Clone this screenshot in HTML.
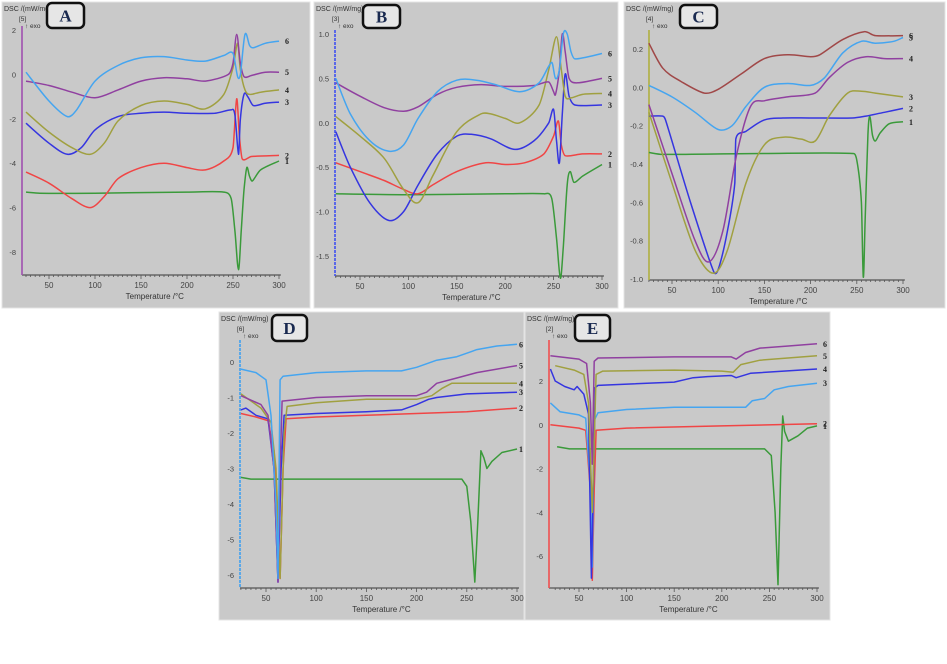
<!DOCTYPE html>
<html><head><meta charset="utf-8"><style>
html,body{margin:0;padding:0;background:#fff;}
svg{display:block;font-family:"Liberation Sans",sans-serif;}
</style></head><body>
<svg id="fig" width="947" height="664" viewBox="0 0 947 664"></svg>
<script>
// ---------- data (temperature °C / DSC mW/mg) ----------
const xTicks=[50,100,150,200,250,300];
const seriesLabels=["1","2","3","4","5","6"];
// Panel A
const A1T=[25,40,100,200,240,248,252,256,259,262,265,268,271,280,300];
const A1V=[-5.3,-5.35,-5.35,-5.3,-5.3,-5.6,-7,-8.8,-7,-5.2,-4.2,-4.6,-4.8,-4.3,-3.9];
const A2T=[25,50,75,95,110,125,150,175,200,220,240,250,254,257,260,270,300];
const A2V=[-4.4,-4.9,-5.6,-6.0,-5.5,-4.7,-4.2,-4.0,-4.2,-4.3,-3.9,-3.3,-1.1,-2.8,-3.8,-3.7,-3.65];
const A3T=[25,50,70,85,100,125,150,175,200,230,248,252,256,258,262,266,272,285,300];
const A3V=[-2.2,-3.1,-3.6,-3.3,-2.5,-1.9,-1.75,-1.7,-1.75,-1.75,-1.6,-1.8,-3.6,-2.0,-0.9,-1.0,-1.4,-1.3,-1.25];
const A4T=[25,50,75,95,110,125,150,175,200,220,240,250,255,258,263,268,280,300];
const A4V=[-1.7,-2.6,-3.3,-3.6,-3.1,-2.1,-1.4,-1.2,-1.35,-1.55,-0.9,0.3,1.4,0.2,-0.7,-0.9,-0.8,-0.7];
const A5T=[25,50,75,100,125,150,175,200,220,245,250,254,258,262,270,285,300];
const A5V=[-0.3,-0.5,-0.8,-1.05,-0.7,-0.3,-0.15,-0.2,-0.3,0.0,0.5,1.8,0.5,-0.1,-0.05,0.1,0.1];
const A6T=[25,50,70,80,100,125,150,175,200,220,240,250,255,258,263,268,272,285,300];
const A6V=[0.1,-1.2,-1.9,-1.6,-0.3,0.4,0.75,0.8,0.65,0.6,0.85,0.95,-0.1,0.0,1.8,1.3,1.2,1.4,1.5];
// Panel B
const B1T=[25,100,200,240,248,253,257,260,264,267,271,280,300];
const B1V=[-0.8,-0.81,-0.8,-0.8,-0.85,-1.3,-1.75,-1.4,-0.7,-0.55,-0.67,-0.6,-0.47];
const B2T=[25,50,75,95,110,125,150,180,200,220,240,250,255,258,262,280,300];
const B2V=[-0.45,-0.55,-0.65,-0.75,-0.8,-0.7,-0.55,-0.45,-0.47,-0.45,-0.35,-0.15,0.02,-0.25,-0.37,-0.35,-0.35];
const B3T=[25,40,60,80,95,110,130,150,165,185,210,230,245,250,253,256,259,262,266,272,300];
const B3V=[-0.1,-0.5,-0.9,-1.1,-1.0,-0.7,-0.35,-0.15,-0.13,-0.18,-0.3,-0.2,0.0,0.15,-0.2,-0.45,0.1,0.55,0.3,0.2,0.2];
const B4T=[25,50,75,95,110,125,150,175,185,200,215,235,245,253,258,262,268,280,300];
const B4V=[0.07,-0.15,-0.4,-0.75,-0.9,-0.6,-0.1,0.1,0.1,0.05,0.0,0.2,0.6,0.97,0.6,0.3,0.28,0.32,0.33];
const B5T=[25,50,75,95,110,130,150,175,200,230,245,250,252,256,259,262,266,275,300];
const B5V=[0.45,0.3,0.17,0.13,0.18,0.32,0.4,0.43,0.41,0.42,0.46,0.35,0.32,0.6,1.0,0.8,0.5,0.45,0.5];
const B6T=[25,40,60,80,95,110,130,150,170,190,215,235,248,252,256,260,264,268,272,300];
const B6V=[0.5,0.1,-0.2,-0.32,-0.25,0.05,0.35,0.48,0.48,0.43,0.35,0.45,0.68,0.5,0.6,1.0,1.0,0.8,0.72,0.78];
// Panel C
const C1T=[25,40,150,245,250,255,257,259,262,264,267,270,275,285,300];
const C1V=[-0.34,-0.35,-0.345,-0.345,-0.38,-0.6,-0.99,-0.7,-0.25,-0.15,-0.25,-0.28,-0.24,-0.19,-0.18];
const C2T=[25,40,43,70,95,100,110,118,119,130,150,170,200,245,260,280,300];
const C2V=[-0.15,-0.15,-0.17,-0.6,-0.96,-0.95,-0.75,-0.5,-0.27,-0.23,-0.17,-0.16,-0.16,-0.16,-0.15,-0.13,-0.11];
const C3T=[25,50,75,95,110,130,150,170,190,205,220,240,255,270,300];
const C3V=[-0.13,-0.5,-0.85,-0.97,-0.85,-0.5,-0.3,-0.26,-0.27,-0.28,-0.15,-0.03,-0.02,-0.03,-0.05];
const C4T=[25,50,75,90,105,120,135,150,175,205,220,240,260,280,300];
const C4V=[-0.09,-0.45,-0.8,-0.91,-0.75,-0.35,-0.1,-0.07,-0.05,-0.03,0.05,0.13,0.16,0.15,0.15];
const C5T=[25,50,75,100,115,130,150,175,200,215,235,255,270,290,300];
const C5V=[0.01,-0.05,-0.13,-0.22,-0.2,-0.1,0.0,0.02,0.01,0.05,0.18,0.24,0.23,0.24,0.26];
const C6T=[25,40,60,85,100,125,150,175,200,210,235,258,270,300];
const C6V=[0.23,0.1,0.03,-0.03,-0.01,0.07,0.15,0.17,0.16,0.17,0.25,0.29,0.27,0.27];
// Panel D
const D1T=[25,35,100,200,245,250,254,258,261,264,267,270,275,285,300];
const D1V=[-3.25,-3.3,-3.3,-3.3,-3.3,-3.5,-4.5,-6.2,-4.5,-2.5,-2.7,-3.0,-2.8,-2.55,-2.45];
const D2T=[25,40,52,58,64,67,70,100,150,200,250,300];
const D2V=[-1.45,-1.55,-1.65,-2.5,-6.1,-3,-1.6,-1.55,-1.5,-1.45,-1.4,-1.3];
const D3T=[25,30,40,52,58,62,65,68,100,150,185,200,212,220,250,300];
const D3V=[-1.35,-1.3,-1.5,-1.6,-3,-6.2,-3,-1.5,-1.45,-1.4,-1.35,-1.2,-1.05,-1.0,-0.9,-0.85];
const D4T=[25,45,55,60,64,68,71,100,150,200,215,225,235,300];
const D4V=[-0.9,-1.3,-1.7,-3,-6.1,-2,-1.25,-1.15,-1.05,-1.05,-0.95,-0.75,-0.6,-0.6];
const D5T=[25,45,52,58,62,64,66,100,150,200,210,220,240,260,300];
const D5V=[-0.95,-1.2,-1.5,-3,-6.2,-3,-1.1,-1.0,-0.95,-0.95,-0.85,-0.6,-0.45,-0.3,-0.1];
const D6T=[25,40,50,55,60,62,63,64,67,100,150,185,200,220,240,255,260,280,300];
const D6V=[-0.2,-0.3,-0.5,-1.5,-4,-6.1,-3,-0.5,-0.4,-0.3,-0.25,-0.25,-0.15,0.05,0.15,0.3,0.35,0.45,0.5];
// Panel E
const E1T=[27,40,150,245,252,256,259,262,264,266,270,280,290,300];
const E1V=[-1.0,-1.1,-1.1,-1.1,-1.4,-4,-7.3,-2,0.4,-0.3,-0.75,-0.5,-0.15,-0.05];
const E2T=[20,50,57,62,64,66,68,100,200,300];
const E2V=[0.0,-0.15,-0.25,-3,-7.1,-3,-0.25,-0.15,-0.05,0.05];
const E3T=[20,30,50,57,62,64,66,70,100,150,210,225,232,245,255,270,300];
const E3V=[1.0,0.6,0.45,0.3,-2.8,-6.5,0.2,0.55,0.7,0.8,0.8,0.8,1.1,1.2,1.6,1.75,1.9];
const E4T=[20,25,35,45,48,55,60,63,65,67,70,150,170,185,210,215,230,300];
const E4V=[2.55,2.0,1.75,1.6,1.75,1.4,0.5,-7.0,-2.8,1.7,1.8,1.95,2.15,2.2,2.25,2.15,2.35,2.55];
const E5T=[25,45,55,60,64,68,75,150,200,212,220,240,300];
const E5V=[2.7,2.5,2.3,1.0,-4.0,2.3,2.45,2.5,2.45,2.4,2.75,2.95,3.15];
const E6T=[20,50,58,62,64,66,70,150,210,215,225,240,270,300];
const E6V=[3.15,3.0,2.8,1.0,-1.8,2.9,3.05,3.1,3.1,3.0,3.3,3.5,3.6,3.7];

const yTicksA=[2,0,-2,-4,-6,-8], yTicksB=[1.0,0.5,0.0,-0.5,-1.0,-1.5],
      yTicksC=[0.2,0.0,-0.2,-0.4,-0.6,-0.8,-1.0], yTicksD=[0,-1,-2,-3,-4,-5,-6], yTicksE=[2,0,-2,-4,-6];
const ytA=["2","0","-2","-4","-6","-8"], ytB=["1.0","0.5","0.0","-0.5","-1.0","-1.5"],
      ytC=["0.2","0.0","-0.2","-0.4","-0.6","-0.8","-1.0"], ytD=["0","-1","-2","-3","-4","-5","-6"], ytE=["2","0","-2","-4","-6"];

// ---------- drawing ----------
const NS="http://www.w3.org/2000/svg";
const svg=document.getElementById('fig');
function mk(tag,attrs,parent){const e=document.createElementNS(NS,tag);for(const k in attrs)e.setAttribute(k,attrs[k]);(parent||svg).appendChild(e);return e;}
const G="#3a9a3a",R="#f04545",BL="#3535e0",OL="#a0a040",PU="#9040a0",LB="#45a5f0",BR="#a04848";

function smoothPath(P){
  let d="M"+P[0][0].toFixed(1)+","+P[0][1].toFixed(1);
  for(let i=0;i<P.length-1;i++){
    const p0=P[Math.max(0,i-1)],p1=P[i],p2=P[i+1],p3=P[Math.min(P.length-1,i+2)];
    const dx=p2[0]-p1[0];
    // monotone-in-x friendly tangents, limited by segment width
    const t1x=(p2[0]-p0[0])/6,t1y=(p2[1]-p0[1])/6,t2x=(p3[0]-p1[0])/6,t2y=(p3[1]-p1[1])/6;
    const k1=Math.min(1,dx/ (3*Math.max(1e-6,Math.abs(t1x)))), k2=Math.min(1,dx/(3*Math.max(1e-6,Math.abs(t2x))));
    const c1=[p1[0]+t1x*k1,p1[1]+t1y*k1], c2=[p2[0]-t2x*k2,p2[1]-t2y*k2];
    d+=" C"+c1[0].toFixed(1)+","+c1[1].toFixed(1)+" "+c2[0].toFixed(1)+","+c2[1].toFixed(1)+" "+p2[0].toFixed(1)+","+p2[1].toFixed(1);
  }
  return d;
}

const panels=[
 {id:"A",box:[2,2,308,306],x0:49,xs:0.92,y0:30,v0:2,ys:22.2,ax:22,axTop:26,xy:275,axc:"#a050b0",yt:yTicksA,ytl:ytA,lab:[47,3,37,25],tag:"[5]",smooth:true,
  s:[[A1T,A1V,G],[A2T,A2V,R],[A3T,A3V,BL],[A4T,A4V,OL],[A5T,A5V,PU],[A6T,A6V,LB]]},
 {id:"B",box:[314,2,304,306],x0:360,xs:0.968,y0:34,v0:1,ys:88.8,ax:335,axTop:30,xy:276,axc:"#4050f0",dash:true,yt:yTicksB,ytl:ytB,lab:[363,5,37,23],tag:"[3]",smooth:true,
  s:[[B1T,B1V,G],[B2T,B2V,R],[B3T,B3V,BL],[B4T,B4V,OL],[B5T,B5V,PU],[B6T,B6V,LB]]},
 {id:"C",box:[624,2,321,306],x0:672,xs:0.924,y0:49,v0:0.2,ys:191.7,ax:649,axTop:30,xy:280,axc:"#b0b040",yt:yTicksC,ytl:ytC,lab:[680,5,37,23],tag:"[4]",smooth:true,
  s:[[C1T,C1V,G],[C2T,C2V,BL],[C3T,C3V,OL],[C4T,C4V,PU],[C5T,C5V,LB],[C6T,C6V,BR]]},
 {id:"D",box:[219,312,305,308],x0:266,xs:1.004,y0:362,v0:0,ys:35.5,ax:240,axTop:340,xy:588,axc:"#40a0f0",dash:true,yt:yTicksD,ytl:ytD,lab:[272,315,35,26],tag:"[6]",smooth:false,lblOff:2,
  s:[[D1T,D1V,G],[D2T,D2V,R],[D3T,D3V,BL],[D4T,D4V,OL],[D5T,D5V,PU],[D6T,D6V,LB]]},
 {id:"E",box:[525,312,305,308],x0:579,xs:0.952,y0:381,v0:2,ys:21.9,ax:549,axTop:340,xy:588,axc:"#f05050",yt:yTicksE,ytl:ytE,lab:[575,315,35,26],tag:"[2]",smooth:false,
  s:[[E1T,E1V,G],[E2T,E2V,R],[E3T,E3V,LB],[E4T,E4V,BL],[E5T,E5V,OL],[E6T,E6V,PU]]}
];

const labelLayer=[];
panels.forEach(p=>{
  const g=mk('g',{});
  
  
  const [bx,by,bw,bh]=p.box;
  const bg=mk('rect',{x:bx,y:by,width:bw,height:bh,fill:"#c9c9c9",stroke:"#e4e4e4","stroke-width":1},g);
  
  
  const X=t=>p.x0+(t-50)*p.xs, Y=v=>p.y0+(p.v0-v)*p.ys;
  const xr=X(302);
  const xa=mk('line',{x1:p.ax,y1:p.xy,x2:xr,y2:p.xy,stroke:"#555","stroke-width":1.3},g);
  
  
  for(let t=25;t<=300;t+=5){mk('line',{x1:X(t),y1:p.xy,x2:X(t),y2:p.xy+(t%50===0?4:2),stroke:"#555","stroke-width":0.8},g);}
  xTicks.forEach(t=>{const tx=mk('text',{x:X(t),y:p.xy+13,"font-size":8,fill:"#444","text-anchor":"middle"},g);tx.textContent=t;
    
    });
  const xt=mk('text',{x:X(165),y:p.xy+24,"font-size":8,fill:"#333","text-anchor":"middle"},g);xt.textContent="Temperature /°C";
  
  
  const ya=mk('line',{x1:p.ax,y1:p.axTop,x2:p.ax,y2:p.xy,stroke:p.axc,"stroke-width":1.6,"stroke-dasharray":p.dash?"3,1":"none"},g);
  
  
  p.yt.forEach((v,i)=>{const tx=mk('text',{x:p.ax-6,y:Y(v)+3,"font-size":7.5,fill:"#444","text-anchor":"end"},g);tx.textContent=p.ytl[i];
    
    });
  const yt=mk('text',{x:bx+2,y:by+9,"font-size":7,fill:"#333"},g);yt.textContent="DSC /(mW/mg)";
  
  
  const tg=mk('text',{x:p.ax-3,y:by+19,"font-size":6.5,fill:"#333"},g);tg.textContent=p.tag;
  const ex=mk('text',{x:p.ax+3,y:by+26,"font-size":6.5,fill:"#333"},g);ex.textContent="↑ exo";
  
  
  p.s.forEach((s,i)=>{
    const [T,V,c]=s;
    const P=T.map((t,j)=>[X(t),Y(V[j])]);
    let el;
    if(p.smooth){
      el=mk('path',{d:smoothPath(P),fill:"none",stroke:c,"stroke-width":1.5,"stroke-linejoin":"round"},g);
    } else {
      el=mk('polyline',{points:P.map(q=>q[0].toFixed(1)+","+q[1].toFixed(1)).join(" "),fill:"none",stroke:c,"stroke-width":1.5,"stroke-linejoin":"round"},g);
    }
    
    
    labelLayer.push([X(T[T.length-1])+(p.lblOff||6),Y(V[V.length-1])+3,seriesLabels[i]]);
  });
  const [lx,ly,lw,lh]=p.lab;
  const lb=mk('rect',{x:lx,y:ly,width:lw,height:lh,rx:5,fill:"#e6e6e6",stroke:"#111","stroke-width":2.5},g);
  
  
  const lt=mk('text',{x:lx+lw/2,y:ly+lh/2+6,"font-size":17,"font-weight":"bold","font-family":"Liberation Serif,serif",fill:"#1a2a50","text-anchor":"middle"},g);
  lt.textContent=p.id;
  
  
});
labelLayer.forEach(L=>{
  const lt=mk('text',{x:L[0],y:L[1],"font-size":8,"font-family":"Liberation Serif,serif","font-weight":"bold",fill:"#222"});
  lt.textContent=L[2];
  
  
});
</script>
</body></html>
